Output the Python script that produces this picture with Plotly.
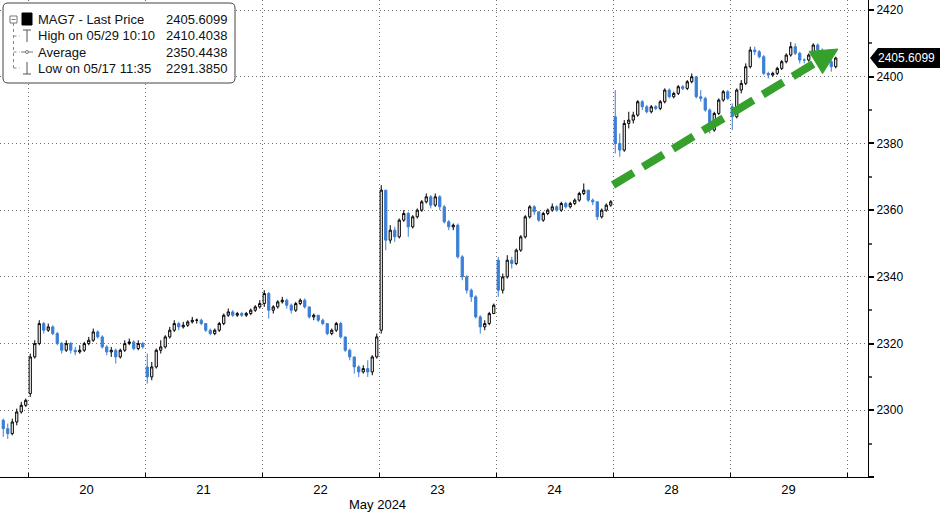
import plotly.graph_objects as go

# ---------------- data (per trading day: first open, closes, highs, lows) ----------------
day_labels = ["20", "21", "22", "23", "24", "28", "29"]

d17_open = 2297.0
d17_close = [2294.5, 2293.0, 2296.5, 2299.5, 2301.5, 2303.0]
d17_high = [2297.5, 2296.0, 2297.5, 2300.5, 2302.5, 2303.5]
d17_low = [2292.0, 2291.4, 2292.5, 2295.5, 2299.0, 2301.0]

d20_open = 2305.0
d20_close = [2316.0, 2320.0, 2326.0, 2324.0, 2325.0, 2323.0, 2320.0, 2318.0, 2320.0, 2318.0, 2317.5, 2318.0, 2320.0,
             2321.0, 2323.5, 2322.0, 2319.0, 2317.5, 2318.0, 2316.0, 2318.0, 2320.0, 2320.5, 2318.5, 2320.0, 2319.0]
d20_high = [2317.0, 2321.0, 2327.0, 2326.5, 2326.0, 2325.5, 2323.5, 2320.5, 2321.0, 2320.5, 2319.0, 2319.5, 2320.5,
            2322.0, 2324.5, 2324.0, 2322.5, 2319.5, 2319.0, 2318.5, 2318.5, 2321.0, 2321.5, 2321.0, 2321.0, 2320.5]
d20_low = [2304.0, 2315.5, 2319.5, 2323.0, 2323.5, 2322.5, 2319.5, 2317.0, 2317.5, 2317.0, 2316.5, 2317.0, 2317.5,
           2319.5, 2320.5, 2321.5, 2318.5, 2316.5, 2316.0, 2314.0, 2315.5, 2317.5, 2319.5, 2318.0, 2318.0, 2318.5]

d21_open = 2313.0
d21_close = [2310.0, 2313.0, 2318.0, 2319.0, 2322.0, 2324.0, 2326.0, 2325.0, 2325.5, 2326.5, 2327.0, 2327.0, 2326.0,
             2324.0, 2323.0, 2324.0, 2326.0, 2328.5, 2329.5, 2328.5, 2329.0, 2328.5, 2329.0, 2330.0, 2331.0, 2332.0]
d21_high = [2317.0, 2314.5, 2318.5, 2321.0, 2322.5, 2325.0, 2327.0, 2326.5, 2326.5, 2327.0, 2328.0, 2327.5, 2327.5,
            2326.0, 2324.5, 2324.5, 2326.5, 2329.0, 2330.5, 2330.0, 2329.5, 2329.5, 2329.5, 2330.5, 2331.5, 2333.0]
d21_low = [2308.0, 2309.0, 2312.5, 2317.0, 2318.5, 2321.5, 2323.5, 2324.0, 2324.5, 2325.0, 2326.0, 2326.0, 2325.5,
           2323.5, 2322.5, 2322.5, 2323.5, 2325.5, 2328.0, 2328.0, 2328.0, 2328.0, 2328.0, 2328.5, 2329.5, 2330.5]

d22_open = 2332.0
d22_close = [2335.0, 2330.0, 2331.0, 2332.5, 2333.0, 2331.5, 2330.0, 2332.0, 2333.0, 2331.0, 2328.0, 2328.5, 2327.0,
             2326.0, 2323.0, 2324.0, 2326.0, 2322.0, 2318.0, 2316.0, 2313.0, 2311.5, 2312.5, 2311.5, 2316.0, 2322.0]
d22_high = [2336.0, 2335.5, 2331.5, 2333.0, 2334.0, 2333.5, 2332.0, 2332.5, 2333.5, 2333.5, 2331.0, 2329.0, 2328.5,
            2327.5, 2326.0, 2324.5, 2326.5, 2326.5, 2322.0, 2318.5, 2316.0, 2313.5, 2313.5, 2315.0, 2316.5, 2323.0]
d22_low = [2331.0, 2327.5, 2329.0, 2330.5, 2332.0, 2330.5, 2329.0, 2329.5, 2331.5, 2330.5, 2327.5, 2327.0, 2326.5,
           2325.5, 2322.5, 2322.5, 2323.5, 2321.5, 2317.5, 2315.0, 2311.0, 2310.0, 2311.0, 2310.0, 2310.5, 2315.5]

d23_open = 2324.0
d23_close = [2366.0, 2351.0, 2354.0, 2352.0, 2357.0, 2359.0, 2355.0, 2358.0, 2360.0, 2362.5, 2364.0, 2361.5, 2364.0,
             2361.0, 2356.5, 2355.0, 2355.5, 2346.0, 2340.0, 2336.0, 2334.0, 2328.0, 2325.0, 2326.0, 2329.0, 2331.5]
d23_high = [2367.5, 2366.0, 2355.5, 2355.0, 2357.5, 2360.0, 2359.5, 2358.5, 2360.5, 2363.0, 2365.0, 2364.5, 2365.0,
            2364.5, 2361.5, 2357.0, 2356.0, 2356.0, 2346.5, 2340.5, 2336.5, 2334.5, 2328.5, 2327.0, 2329.5, 2332.0]
d23_low = [2323.0, 2348.0, 2350.0, 2350.5, 2351.5, 2356.5, 2352.0, 2354.5, 2357.5, 2359.5, 2362.0, 2360.5, 2361.0,
           2360.0, 2356.0, 2354.0, 2354.0, 2345.5, 2339.0, 2335.0, 2332.5, 2327.5, 2323.0, 2324.0, 2325.5, 2329.0]

d24_open = 2345.0
d24_close = [2336.0, 2340.0, 2345.0, 2344.0, 2348.0, 2352.0, 2358.0, 2361.0, 2359.5, 2357.0, 2359.0, 2360.0, 2361.0,
             2360.0, 2362.0, 2361.0, 2362.0, 2363.0, 2365.0, 2366.0, 2363.0, 2362.5, 2358.0, 2360.0, 2361.5, 2362.5]
d24_high = [2346.0, 2341.0, 2346.5, 2346.0, 2348.5, 2352.5, 2358.5, 2361.5, 2361.5, 2359.5, 2359.5, 2360.5, 2362.0,
            2361.5, 2362.5, 2362.5, 2362.5, 2363.5, 2365.5, 2368.0, 2366.0, 2363.5, 2362.5, 2360.5, 2362.0, 2363.0]
d24_low = [2334.0, 2335.0, 2339.5, 2342.5, 2343.5, 2347.5, 2351.5, 2357.5, 2358.5, 2356.5, 2356.5, 2358.5, 2359.5,
           2359.5, 2359.5, 2360.5, 2360.5, 2361.5, 2362.5, 2364.5, 2362.5, 2361.5, 2357.0, 2357.5, 2359.5, 2361.0]

d28_open = 2388.0
d28_close = [2380.0, 2378.0, 2386.0, 2387.0, 2388.5, 2392.5, 2391.0, 2389.5, 2391.0, 2390.5, 2392.5, 2396.0, 2394.0,
             2395.0, 2397.0, 2396.5, 2398.5, 2400.0, 2394.0, 2393.5, 2390.0, 2384.0, 2389.0, 2393.0, 2395.5, 2393.5]
d28_high = [2396.0, 2383.0, 2387.0, 2389.5, 2389.5, 2393.0, 2393.0, 2391.5, 2391.5, 2391.5, 2393.0, 2396.5, 2396.5,
            2395.5, 2397.5, 2397.5, 2399.0, 2401.0, 2400.0, 2396.0, 2394.0, 2390.5, 2389.5, 2393.5, 2396.0, 2396.0]
d28_low = [2377.0, 2376.0, 2377.5, 2384.5, 2386.0, 2388.0, 2390.0, 2389.0, 2389.0, 2390.0, 2390.0, 2392.0, 2393.5,
           2393.5, 2394.5, 2396.0, 2396.0, 2398.0, 2393.5, 2392.5, 2389.5, 2383.0, 2383.5, 2388.5, 2392.5, 2393.0]

d29_open = 2391.0
d29_close = [2388.0, 2396.0, 2398.0, 2403.0, 2408.0, 2407.5, 2406.0, 2401.0, 2400.5, 2401.0, 2402.5, 2404.5, 2406.5,
             2409.0, 2407.0, 2405.0, 2405.0, 2406.5, 2409.5, 2408.0, 2406.0, 2404.5, 2403.0, 2405.6099]
d29_high = [2392.0, 2396.5, 2399.0, 2404.0, 2409.0, 2409.0, 2408.0, 2406.5, 2401.5, 2401.5, 2403.0, 2405.0, 2407.0,
            2410.4038, 2410.0, 2407.5, 2405.5, 2407.0, 2410.0, 2410.0, 2408.5, 2406.5, 2405.0, 2406.0]
d29_low = [2384.0, 2387.5, 2395.0, 2397.5, 2402.5, 2406.5, 2405.5, 2400.5, 2399.5, 2400.0, 2400.5, 2402.0, 2404.0,
           2406.0, 2406.5, 2404.0, 2404.0, 2404.5, 2406.0, 2407.5, 2405.5, 2403.5, 2401.5, 2402.5]

legend_rows = [("MAG7 - Last Price", "2405.6099"),
               ("High on 05/29 10:10", "2410.4038"),
               ("Average", "2350.4438"),
               ("Low on 05/17 11:35", "2291.3850")]
last_price = 2405.6099
y_ticks = [2280, 2300, 2320, 2340, 2360, 2380, 2400, 2420]

# ---------------- assemble bars ----------------
days = [
    (d17_open, d17_close, d17_high, d17_low),
    (d20_open, d20_close, d20_high, d20_low),
    (d21_open, d21_close, d21_high, d21_low),
    (d22_open, d22_close, d22_high, d22_low),
    (d23_open, d23_close, d23_high, d23_low),
    (d24_open, d24_close, d24_high, d24_low),
    (d28_open, d28_close, d28_high, d28_low),
    (d29_open, d29_close, d29_high, d29_low),
]
BARS_PER_DAY = 26
xs, O, H, L, C = [], [], [], [], []
start = -len(d17_close)
for di, (op, cl, hi, lo) in enumerate(days):
    base = start if di == 0 else (di - 1) * BARS_PER_DAY
    prev = op
    for k, c in enumerate(cl):
        o = prev
        xs.append(base + k)
        O.append(o)
        C.append(c)
        H.append(max(hi[k], o, c))
        L.append(min(lo[k], o, c))
        prev = c

BLUE = "#3a7ed6"
fig = go.Figure(go.Candlestick(
    x=xs, open=O, high=H, low=L, close=C,
    increasing=dict(line=dict(color="black", width=1), fillcolor="white"),
    decreasing=dict(line=dict(color=BLUE, width=1), fillcolor=BLUE),
    whiskerwidth=0, hoverinfo="skip", showlegend=False,
))

W, Hh = 940, 512
ML, MR, MT, MB = 0, 72, 0, 35
PW, PH = W - ML - MR, Hh - MT - MB


def px(x):
    return (x - ML) / PW


def py(y):
    return (MT + PH - y) / PH


centers = [BARS_PER_DAY * k + (BARS_PER_DAY - 1) / 2 for k in range(len(day_labels))]
x_lo = -0.5 - 28 / 4.5
x_hi = x_lo + PW / 4.5

font_main = "Liberation Sans, Arial, sans-serif"
grid_col = "#707070"
grid_dash = "1px,3px"

fig.update_layout(
    width=W, height=Hh,
    margin=dict(l=ML, r=MR, t=MT, b=MB),
    paper_bgcolor="white", plot_bgcolor="white",
    font=dict(family=font_main, size=12, color="black"),
    xaxis=dict(
        range=[x_lo, x_hi], rangeslider=dict(visible=False),
        tickmode="array", tickvals=centers, ticktext=day_labels,
        ticks="", showgrid=False, zeroline=False,
        showline=True, linecolor="black", linewidth=1,
        tickfont=dict(family="Liberation Sans Narrow, Liberation Sans, Arial", size=13),
        minor=dict(tick0=-0.5, dtick=BARS_PER_DAY, showgrid=True, gridcolor=grid_col,
                   griddash=grid_dash, gridwidth=1, ticks="inside", ticklen=4, tickcolor="black"),
    ),
    yaxis=dict(
        side="right", range=[2280, 2423],
        tickmode="array", tickvals=y_ticks,
        ticktext=["" if v == 2280 else str(v) for v in y_ticks],
        ticks="outside", ticklen=5, tickwidth=2, tickcolor="black",
        showgrid=True, gridcolor=grid_col, griddash=grid_dash, gridwidth=1,
        zeroline=False, showline=True, linecolor="black", linewidth=1,
        tickfont=dict(family=font_main, size=12),
        minor=dict(tick0=2290, dtick=20, ticks="outside", ticklen=3, tickcolor="#555", showgrid=False),
    ),
)

shapes = []
annotations = []

# "May 2024" label
annotations.append(dict(xref="paper", yref="paper", x=px(377), y=py(504), text="May 2024",
                        showarrow=False, xanchor="center", yanchor="middle",
                        font=dict(family="Liberation Sans Narrow, Liberation Sans, Arial", size=13)))

# Last price tag
shapes.append(dict(type="path", xref="paper", yref="y",
                   path=f"M {px(870)},{last_price} L {px(878)},{last_price + 3.0} L {px(940)},{last_price + 3.0} "
                        f"L {px(940)},{last_price - 3.0} L {px(878)},{last_price - 3.0} Z",
                   fillcolor="black", line=dict(width=0), layer="above"))
annotations.append(dict(xref="paper", yref="y", x=px(876), y=last_price, text=str(last_price),
                        showarrow=False, xanchor="left", yanchor="middle",
                        font=dict(family=font_main, size=12, color="white")))

# Green dashed trend arrow
GREEN = "#36a02c"
x0a, y0a = 613, 185
tip = (838, 49)
dirx, diry = 0.855, -0.519
bl = 26
hw = 13
bx, by = tip[0] - bl * dirx, tip[1] - bl * diry
perp = (-diry, dirx)
c1 = (bx + hw * perp[0], by + hw * perp[1])
c2 = (bx - hw * perp[0], by - hw * perp[1])
shapes.append(dict(type="line", xref="paper", yref="paper",
                   x0=px(x0a), y0=py(y0a), x1=px(bx + 3 * dirx), y1=py(by + 3 * diry),
                   line=dict(color=GREEN, width=8, dash="24px,11px"), layer="above"))
shapes.append(dict(type="path", xref="paper", yref="paper",
                   path=f"M {px(tip[0])},{py(tip[1])} L {px(c1[0])},{py(c1[1])} L {px(c2[0])},{py(c2[1])} Z",
                   fillcolor=GREEN, line=dict(color=GREEN, width=1), layer="above"))

# Legend box
shapes.append(dict(type="path", xref="paper", yref="paper",
                   path=(f"M {px(8)},{py(3)} L {px(230)},{py(3)} Q {px(235)},{py(3)} {px(235)},{py(8)} "
                         f"L {px(235)},{py(78)} Q {px(235)},{py(83)} {px(230)},{py(83)} "
                         f"L {px(8)},{py(83)} Q {px(3)},{py(83)} {px(3)},{py(78)} "
                         f"L {px(3)},{py(8)} Q {px(3)},{py(3)} {px(8)},{py(3)} Z"),
                   fillcolor="white", line=dict(color="#444", width=1), layer="above"))
row_y = [19, 36, 52, 68]
# tree lines
shapes.append(dict(type="rect", xref="paper", yref="paper", x0=px(10), x1=px(17), y0=py(16), y1=py(23),
                   line=dict(color="#777", width=1), fillcolor="white", layer="above"))
shapes.append(dict(type="line", xref="paper", yref="paper", x0=px(11.5), x1=px(15.5), y0=py(19.5), y1=py(19.5),
                   line=dict(color="#777", width=1), layer="above"))
shapes.append(dict(type="line", xref="paper", yref="paper", x0=px(13.5), x1=px(13.5), y0=py(23), y1=py(row_y[3]),
                   line=dict(color="#888", width=1, dash="dot"), layer="above"))
for ry in row_y[1:]:
    shapes.append(dict(type="line", xref="paper", yref="paper", x0=px(13.5), x1=px(20), y0=py(ry), y1=py(ry),
                       line=dict(color="#888", width=1, dash="dot"), layer="above"))
# icons
shapes.append(dict(type="rect", xref="paper", yref="paper", x0=px(22), x1=px(32), y0=py(13), y1=py(25),
                   fillcolor="black", line=dict(color="black", width=1), layer="above"))
# High icon (T)
shapes.append(dict(type="line", xref="paper", yref="paper", x0=px(23), x1=px(31), y0=py(30), y1=py(30),
                   line=dict(color="#555", width=1), layer="above"))
shapes.append(dict(type="line", xref="paper", yref="paper", x0=px(27), x1=px(27), y0=py(30), y1=py(42),
                   line=dict(color="#555", width=1), layer="above"))
# Average icon
shapes.append(dict(type="line", xref="paper", yref="paper", x0=px(21), x1=px(33), y0=py(52), y1=py(52),
                   line=dict(color="#777", width=1), layer="above"))
shapes.append(dict(type="circle", xref="paper", yref="paper", x0=px(25.5), x1=px(28.5), y0=py(50.5), y1=py(53.5),
                   line=dict(color="#777", width=1), fillcolor="white", layer="above"))
# Low icon (inverted T)
shapes.append(dict(type="line", xref="paper", yref="paper", x0=px(23), x1=px(31), y0=py(74), y1=py(74),
                   line=dict(color="#555", width=1), layer="above"))
shapes.append(dict(type="line", xref="paper", yref="paper", x0=px(27), x1=px(27), y0=py(62), y1=py(74),
                   line=dict(color="#555", width=1), layer="above"))

for (lab, val), ry in zip(legend_rows, row_y):
    annotations.append(dict(xref="paper", yref="paper", x=px(36), y=py(ry), text=lab, showarrow=False,
                            xanchor="left", yanchor="middle", font=dict(family=font_main, size=13, color="#111")))
    annotations.append(dict(xref="paper", yref="paper", x=px(229), y=py(ry), text=val, showarrow=False,
                            xanchor="right", yanchor="middle", font=dict(family=font_main, size=13, color="#111")))

fig.update_layout(shapes=shapes, annotations=annotations)
fig.write_html("out.html", config={"displayModeBar": False},
               post_script="document.body.style.margin='0';document.body.style.overflow='hidden';")
